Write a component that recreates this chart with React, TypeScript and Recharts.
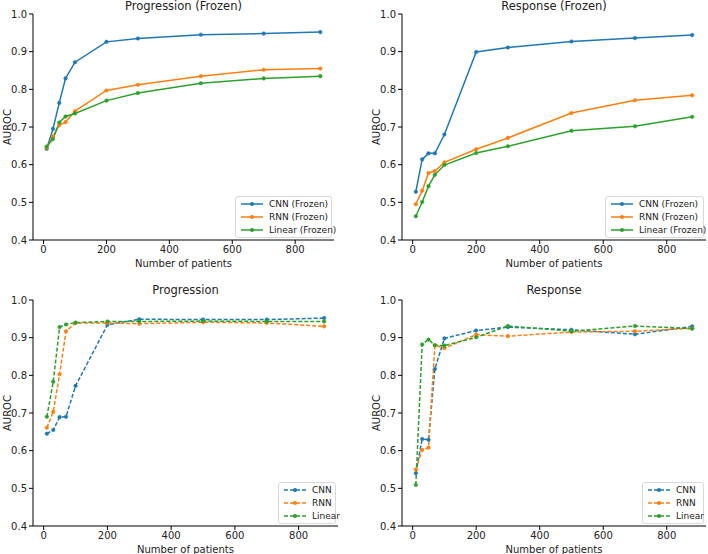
import { FC } from 'react'
import { LineChart, Line, XAxis, YAxis } from 'recharts'

// number of patients used for training
const patients = [10, 30, 50, 70, 100, 200, 300, 500, 700, 880]

const progFrozenCnn = [0.642, 0.695, 0.764, 0.829, 0.872, 0.926, 0.935, 0.945, 0.948, 0.952]
const progFrozenRnn = [0.645, 0.675, 0.705, 0.713, 0.742, 0.797, 0.812, 0.835, 0.852, 0.855]
const progFrozenLinear = [0.648, 0.668, 0.712, 0.728, 0.736, 0.770, 0.790, 0.816, 0.829, 0.835]

const respFrozenCnn = [0.528, 0.614, 0.630, 0.630, 0.680, 0.899, 0.911, 0.927, 0.936, 0.944]
const respFrozenRnn = [0.495, 0.531, 0.578, 0.583, 0.606, 0.641, 0.671, 0.737, 0.771, 0.784]
const respFrozenLinear = [0.463, 0.501, 0.543, 0.573, 0.599, 0.631, 0.649, 0.690, 0.702, 0.727]

const progCnn = [0.645, 0.655, 0.689, 0.690, 0.772, 0.934, 0.949, 0.948, 0.948, 0.952]
const progRnn = [0.661, 0.703, 0.803, 0.917, 0.939, 0.939, 0.937, 0.941, 0.939, 0.930]
const progLinear = [0.690, 0.783, 0.928, 0.935, 0.940, 0.943, 0.943, 0.944, 0.943, 0.943]

const respCnn = [0.540, 0.631, 0.629, 0.817, 0.898, 0.919, 0.928, 0.921, 0.909, 0.930]
const respRnn = [0.550, 0.602, 0.608, 0.880, 0.872, 0.908, 0.904, 0.915, 0.917, 0.925]
const respLinear = [0.509, 0.882, 0.895, 0.880, 0.879, 0.901, 0.931, 0.917, 0.931, 0.924]

const yTicks = [0.4, 0.5, 0.6, 0.7, 0.8, 0.9, 1.0]
const xTicks = [0, 200, 400, 600, 800]

const COLORS = ['#1f77b4', '#ff7f0e', '#2ca02c']
const FONT = '"DejaVu Sans", sans-serif'

type PanelProps = {
  title: string
  names: string[]
  values: number[][]
  dashed: boolean
  left: number
  top: number
  height: number
  yAxisWidth: number
  plotWidth: number
  plotTop: number
  plotHeight: number
  legendWidth: number
}

const Panel: FC<PanelProps> = (p) => {
  const data = patients.map((n, i) => {
    const row: Record<string, number> = { n }
    p.names.forEach((name, k) => {
      row[name] = p.values[k][i]
    })
    return row
  })
  const width = p.yAxisWidth + p.plotWidth + 2
  const xAxisHeight = p.height - p.plotTop - p.plotHeight
  const dash = p.dashed ? '4 2' : undefined
  return (
    <div style={{ position: 'absolute', left: p.left, top: p.top, width, height: p.height }}>
      <div
        style={{
          position: 'absolute',
          left: p.yAxisWidth,
          width: p.plotWidth,
          top: Math.max(p.plotTop - 17, -1),
          textAlign: 'center',
          fontFamily: FONT,
          fontSize: 11.5,
          lineHeight: '14px',
          color: '#222',
          whiteSpace: 'nowrap',
        }}
      >
        {p.title}
      </div>
      <LineChart
        width={width}
        height={p.height}
        data={data}
        margin={{ top: p.plotTop, right: 2, left: 0, bottom: 0 }}
      >
        <XAxis
          dataKey="n"
          type="number"
          domain={[-33.5, 923.5]}
          ticks={xTicks}
          allowDataOverflow
          height={xAxisHeight}
          tickSize={4}
          tickMargin={2}
          stroke="#000"
          tick={{ fill: '#222', fontSize: 10, fontFamily: FONT }}
          label={{
            value: 'Number of patients',
            position: 'insideBottom',
            offset: xAxisHeight - 27,
            style: { fill: '#222', fontSize: 10, fontFamily: FONT },
          }}
        />
        <YAxis
          type="number"
          domain={[0.4, 1.0]}
          ticks={yTicks}
          width={p.yAxisWidth}
          tickSize={4}
          tickMargin={2}
          stroke="#000"
          tickFormatter={(v: number) => v.toFixed(1)}
          tick={{ fill: '#222', fontSize: 10, fontFamily: FONT }}
          label={{
            value: 'AUROC',
            angle: -90,
            position: 'insideLeft',
            offset: p.yAxisWidth - 26,
            style: { textAnchor: 'middle', fill: '#222', fontSize: 10, fontFamily: FONT },
          }}
        />
        {p.names.map((name, k) => (
          <Line
            key={name}
            dataKey={name}
            stroke={COLORS[k]}
            strokeWidth={1.5}
            strokeDasharray={dash}
            dot={{ r: 1.8, fill: COLORS[k], stroke: COLORS[k], strokeWidth: 0.5, strokeDasharray: '' }}
            activeDot={false}
            isAnimationActive={false}
          />
        ))}
      </LineChart>
      <div
        style={{
          position: 'absolute',
          left: p.yAxisWidth + p.plotWidth - p.legendWidth - 2,
          top: p.plotTop + p.plotHeight - 44,
          width: p.legendWidth,
          boxSizing: 'border-box',
          border: '1px solid #d8d8d8',
          borderRadius: 3,
          background: '#fff',
          padding: '1px 0',
          fontFamily: FONT,
          fontSize: 9,
          color: '#222',
          whiteSpace: 'nowrap',
        }}
      >
        {p.names.map((name, k) => (
          <div key={name} style={{ display: 'flex', alignItems: 'center', height: 12.7 }}>
            <svg width={24} height={10} style={{ marginLeft: 4, marginRight: 5, flexShrink: 0 }}>
              <line x1={1} y1={5} x2={23} y2={5} stroke={COLORS[k]} strokeWidth={1.5} strokeDasharray={dash} />
              <circle cx={12} cy={5} r={2} fill={COLORS[k]} />
            </svg>
            <span>{name}</span>
          </div>
        ))}
      </div>
    </div>
  )
}

const App: FC = () => {
  return (
    <div style={{ position: 'absolute', left: 0, top: 0, width: 708, height: 554, background: '#fff' }}>
      <Panel
        title="Progression (Frozen)"
        names={['CNN (Frozen)', 'RNN (Frozen)', 'Linear (Frozen)']}
        values={[progFrozenCnn, progFrozenRnn, progFrozenLinear]}
        dashed={false}
        left={0}
        top={0}
        height={277}
        yAxisWidth={33}
        plotWidth={301}
        plotTop={14}
        plotHeight={226}
        legendWidth={97}
      />
      <Panel
        title="Response (Frozen)"
        names={['CNN (Frozen)', 'RNN (Frozen)', 'Linear (Frozen)']}
        values={[respFrozenCnn, respFrozenRnn, respFrozenLinear]}
        dashed={false}
        left={354}
        top={0}
        height={277}
        yAxisWidth={48}
        plotWidth={304}
        plotTop={14}
        plotHeight={226}
        legendWidth={99}
      />
      <Panel
        title="Progression"
        names={['CNN', 'RNN', 'Linear']}
        values={[progCnn, progRnn, progLinear]}
        dashed
        left={0}
        top={277}
        height={277}
        yAxisWidth={33}
        plotWidth={305}
        plotTop={23}
        plotHeight={226}
        legendWidth={58}
      />
      <Panel
        title="Response"
        names={['CNN', 'RNN', 'Linear']}
        values={[respCnn, respRnn, respLinear]}
        dashed
        left={354}
        top={277}
        height={277}
        yAxisWidth={48}
        plotWidth={304}
        plotTop={23}
        plotHeight={226}
        legendWidth={62}
      />
    </div>
  )
}

export default App
